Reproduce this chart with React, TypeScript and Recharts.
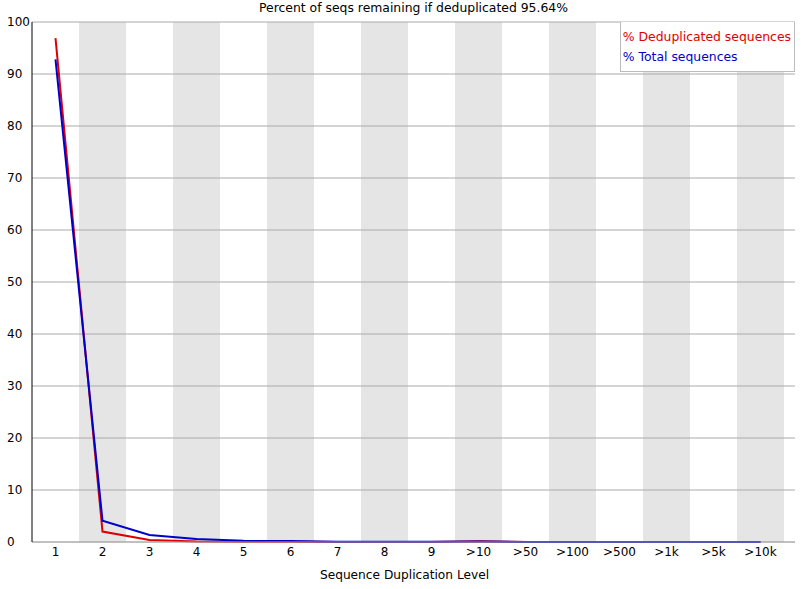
import { ComposedChart, Line, XAxis, YAxis, CartesianGrid, ReferenceArea } from 'recharts';

const levels = ['1', '2', '3', '4', '5', '6', '7', '8', '9', '>10', '>50', '>100', '>500', '>1k', '>5k', '>10k'];
const dedupPct = [96.9, 2.0, 0.38, 0.1, 0.05, 0.05, 0.02, 0.02, 0.02, 0.15, 0.02, 0.01, 0, 0, 0, 0];
const totalPct = [92.8, 4.1, 1.35, 0.57, 0.22, 0.2, 0.05, 0.03, 0.03, 0.1, 0.02, 0.01, 0, 0, 0, 0];
const yTicks = [0, 10, 20, 30, 40, 50, 60, 70, 80, 90, 100];

const title = 'Percent of seqs remaining if deduplicated 95.64%';
const FONT = '"DejaVu Sans", sans-serif';

const data = levels.map((level, i) => ({ level, dedup: dedupPct[i], total: totalPct[i] }));
const shaded = levels.filter((_, i) => i % 2 === 1);

function YTick({ x, y, payload }: any) {
  return (
    <text x={x - 25} y={y} dy="0.35em" textAnchor="start" fontSize={12} fontFamily={FONT} fill="#000">
      {payload.value}
    </text>
  );
}

export default function App() {
  return (
    <div style={{ position: 'absolute', left: 0, top: 0, width: 811, height: 589, background: '#fff' }}>
      <div
        style={{
          position: 'absolute',
          left: 32,
          width: 763,
          top: 0,
          textAlign: 'center',
          fontFamily: FONT,
          fontSize: 12.4,
          lineHeight: '16px',
        }}
      >
        {title}
      </div>
      <ComposedChart width={811} height={589} data={data} margin={{ top: 22, right: 16, bottom: 0, left: 0 }}>
        {shaded.map((l) => (
          <ReferenceArea key={l} x1={l} x2={l} fill="#e5e5e5" fillOpacity={1} stroke="none" zIndex={-200} />
        ))}
        <CartesianGrid vertical={false} stroke="#aaa" />
        <XAxis
          dataKey="level"
          scale="band"
          padding={{ left: 0, right: 11 }}
          height={47}
          stroke="#aaa"
          tickLine={false}
          tickSize={0}
          tickMargin={5}
          tick={{ fill: '#000', fontSize: 12, fontFamily: FONT }}
          interval={0}
          label={{
            value: 'Sequence Duplication Level',
            position: 'insideBottom',
            offset: 10,
            dx: -9,
            fill: '#000',
            fontSize: 12.2,
            fontFamily: FONT,
          }}
        />
        <YAxis
          domain={[0, 100]}
          ticks={yTicks}
          width={32}
          stroke="#000"
          tickLine={false}
          tickSize={0}
          tickMargin={0}
          tick={<YTick />}
          interval={0}
        />
        <Line dataKey="dedup" stroke="#dd0000" strokeWidth={2} dot={false} isAnimationActive={false} />
        <Line dataKey="total" stroke="#0000cc" strokeWidth={2} dot={false} isAnimationActive={false} />
      </ComposedChart>
      <div
        style={{
          position: 'absolute',
          top: 22,
          right: 16,
          border: '1px solid #bbb',
          borderTop: 'none',
          background: '#fff',
          padding: '5px 3px 4px 2px',
          fontFamily: FONT,
          fontSize: 12.4,
          lineHeight: '20px',
        }}
      >
        <div style={{ color: '#dd0000' }}>% Deduplicated sequences</div>
        <div style={{ color: '#0000cc' }}>% Total sequences</div>
      </div>
    </div>
  );
}
